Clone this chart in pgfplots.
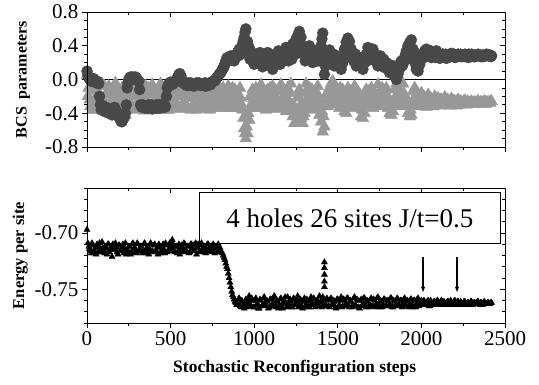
\documentclass[border=0pt]{standalone}
\usepackage{fontspec}
\setmainfont{Liberation Serif}
\usepackage{pgfplots}
\usepackage{pgfplotstable}
\pgfplotsset{compat=1.18}
\usetikzlibrary{arrows.meta}
\definecolor{cdark}{RGB}{72,72,72}
\definecolor{clight}{RGB}{152,152,152}

% BCS parameter 1 (circles), steps 0,10,...,2420
\pgfplotstableread[header=false,row sep=\\]{
0.10\\ 0.02\\ 0.00\\ -0.01\\ 0.01\\ -0.03\\ -0.02\\ -0.05\\
-0.30\\ -0.34\\ -0.36\\ -0.33\\ -0.38\\ -0.40\\ -0.36\\ -0.42\\ -0.38\\
-0.35\\ -0.40\\ -0.44\\ -0.48\\ -0.50\\ -0.46\\ -0.40\\
-0.10\\ 0.00\\ 0.03\\ 0.02\\ 0.01\\ 0.03\\ 0.00\\ -0.02\\
-0.30\\ -0.33\\ -0.31\\ -0.34\\ -0.32\\ -0.30\\ -0.33\\ -0.35\\ -0.31\\ -0.32\\ -0.34\\ -0.30\\ -0.33\\ -0.31\\ -0.29\\ -0.32\\
-0.10\\ -0.05\\ -0.03\\ -0.06\\ -0.04\\ -0.02\\ 0.02\\ 0.06\\ 0.05\\ -0.02\\
-0.04\\ -0.06\\ -0.05\\ -0.07\\ -0.04\\ -0.06\\ -0.08\\ -0.05\\ -0.06\\ -0.04\\ -0.07\\ -0.05\\ -0.06\\ -0.08\\ -0.05\\ -0.04\\ -0.06\\ -0.03\\ -0.02\\ 0.00\\ 0.03\\ 0.06\\
0.08\\ 0.12\\ 0.15\\ 0.22\\ 0.26\\ 0.24\\ 0.28\\ 0.25\\ 0.22\\ 0.27\\
0.32\\ 0.36\\ 0.30\\ 0.42\\ 0.50\\ 0.60\\ 0.45\\ 0.38\\ 0.30\\ 0.25\\
0.18\\ 0.22\\ 0.30\\ 0.26\\ 0.20\\ 0.15\\ 0.22\\ 0.28\\ 0.32\\ 0.25\\
0.18\\ 0.12\\ 0.20\\ 0.28\\ 0.30\\ 0.24\\ 0.20\\ 0.26\\ 0.34\\ 0.38\\
0.30\\ 0.26\\ 0.32\\ 0.42\\ 0.40\\ 0.48\\ 0.52\\ 0.57\\ 0.50\\ 0.38\\
0.30\\ 0.24\\ 0.36\\ 0.40\\ 0.32\\ 0.20\\ 0.26\\ 0.34\\ 0.30\\ 0.22\\
0.40\\ 0.55\\ 0.06\\ 0.22\\ 0.28\\ 0.35\\ 0.30\\ 0.22\\ 0.16\\ 0.20\\
0.26\\ 0.18\\ 0.12\\ 0.20\\ 0.36\\ 0.44\\ 0.49\\ 0.45\\ 0.36\\ 0.30\\
0.24\\ 0.16\\ 0.20\\ 0.26\\ 0.18\\ 0.12\\ 0.20\\ 0.30\\ 0.38\\ 0.32\\
0.26\\ 0.36\\ 0.30\\ 0.22\\ 0.16\\ 0.22\\ 0.26\\ 0.18\\ 0.14\\ 0.20\\
0.12\\ 0.08\\ 0.16\\ 0.10\\ 0.04\\ 0.00\\ 0.06\\ 0.14\\ 0.22\\ 0.18\\
0.26\\ 0.34\\ 0.40\\ 0.44\\ 0.47\\ 0.36\\ 0.24\\ 0.12\\ 0.10\\ 0.18\\
0.26\\ 0.30\\ 0.34\\ 0.36\\ 0.34\\ 0.30\\ 0.26\\ 0.30\\ 0.32\\ 0.34\\
0.28\\ 0.25\\ 0.27\\ 0.30\\ 0.28\\ 0.25\\ 0.27\\ 0.30\\ 0.31\\ 0.28\\
0.26\\ 0.29\\ 0.30\\ 0.28\\ 0.27\\ 0.29\\ 0.30\\ 0.28\\ 0.26\\ 0.28\\
0.30\\ 0.29\\ 0.27\\ 0.28\\ 0.30\\ 0.29\\ 0.28\\ 0.27\\ 0.29\\ 0.30\\
0.28\\ 0.29\\ 0.28\\
}\Ctab
% BCS parameter 1 (circles), steps 5,15,...,2415
\pgfplotstableread[header=false,row sep=\\]{
0.05\\ 0.01\\ -0.02\\ 0.00\\ -0.02\\ -0.04\\ -0.03\\ -0.20\\
-0.36\\ -0.31\\ -0.38\\ -0.35\\ -0.34\\ -0.37\\ -0.40\\ -0.38\\ -0.33\\
-0.38\\ -0.42\\ -0.46\\ -0.50\\ -0.47\\ -0.44\\ -0.30\\
-0.04\\ 0.02\\ 0.01\\ 0.03\\ 0.00\\ 0.02\\ -0.01\\ -0.12\\
-0.32\\ -0.30\\ -0.33\\ -0.31\\ -0.34\\ -0.32\\ -0.30\\ -0.33\\ -0.34\\ -0.30\\ -0.32\\ -0.34\\ -0.31\\ -0.30\\ -0.33\\ -0.20\\
-0.07\\ -0.04\\ -0.05\\ -0.03\\ -0.03\\ 0.00\\ 0.04\\ 0.07\\ 0.02\\ -0.04\\
-0.05\\ -0.07\\ -0.04\\ -0.06\\ -0.05\\ -0.07\\ -0.06\\ -0.04\\ -0.05\\ -0.06\\ -0.05\\ -0.07\\ -0.04\\ -0.06\\ -0.07\\ -0.05\\ -0.04\\ -0.02\\ -0.01\\ 0.02\\ 0.04\\ 0.07\\
0.10\\ 0.14\\ 0.19\\ 0.25\\ 0.22\\ 0.27\\ 0.24\\ 0.28\\ 0.25\\ 0.30\\
0.28\\ 0.34\\ 0.38\\ 0.46\\ 0.56\\ 0.40\\ 0.34\\ 0.24\\ 0.32\\ 0.20\\
0.24\\ 0.28\\ 0.20\\ 0.32\\ 0.26\\ 0.20\\ 0.30\\ 0.22\\ 0.20\\ 0.30\\
0.24\\ 0.18\\ 0.26\\ 0.22\\ 0.34\\ 0.18\\ 0.28\\ 0.22\\ 0.28\\ 0.30\\
0.22\\ 0.34\\ 0.24\\ 0.36\\ 0.30\\ 0.36\\ 0.44\\ 0.50\\ 0.40\\ 0.30\\
0.22\\ 0.32\\ 0.26\\ 0.30\\ 0.24\\ 0.28\\ 0.32\\ 0.22\\ 0.26\\ 0.32\\
0.48\\ 0.24\\ 0.16\\ 0.30\\ 0.22\\ 0.28\\ 0.24\\ 0.30\\ 0.24\\ 0.28\\
0.20\\ 0.24\\ 0.18\\ 0.28\\ 0.30\\ 0.38\\ 0.40\\ 0.30\\ 0.26\\ 0.22\\
0.30\\ 0.22\\ 0.26\\ 0.20\\ 0.24\\ 0.18\\ 0.26\\ 0.22\\ 0.28\\ 0.24\\
0.32\\ 0.24\\ 0.22\\ 0.28\\ 0.20\\ 0.28\\ 0.20\\ 0.24\\ 0.20\\ 0.16\\
0.18\\ 0.14\\ 0.10\\ 0.16\\ 0.08\\ 0.04\\ 0.10\\ 0.20\\ 0.16\\ 0.24\\
0.30\\ 0.24\\ 0.32\\ 0.36\\ 0.30\\ 0.28\\ 0.18\\ 0.20\\ 0.16\\ 0.22\\
0.30\\ 0.26\\ 0.28\\ 0.32\\ 0.28\\ 0.34\\ 0.30\\ 0.28\\ 0.26\\ 0.30\\
0.30\\ 0.28\\ 0.30\\ 0.26\\ 0.30\\ 0.28\\ 0.29\\ 0.27\\ 0.28\\ 0.30\\
0.29\\ 0.27\\ 0.28\\ 0.30\\ 0.29\\ 0.27\\ 0.28\\ 0.29\\ 0.30\\ 0.27\\
0.28\\ 0.27\\ 0.29\\ 0.29\\ 0.28\\ 0.27\\ 0.29\\ 0.28\\ 0.28\\ 0.29\\
0.29\\ 0.27\\
}\Cbtab

% BCS parameter 2 (triangles), steps 0,10,...,2420
\pgfplotstableread[header=false,row sep=\\]{
0.05\\ -0.10\\ -0.32\\ -0.06\\ -0.28\\ -0.36\\ -0.12\\ -0.22\\ -0.35\\ -0.05\\
-0.30\\ -0.18\\ -0.37\\ -0.08\\ -0.26\\ -0.34\\ -0.14\\ -0.04\\ -0.30\\ -0.20\\
-0.36\\ -0.10\\ -0.40\\ -0.42\\ -0.24\\ -0.06\\ -0.32\\ -0.16\\ -0.36\\ -0.04\\
-0.28\\ -0.34\\ -0.12\\ -0.22\\ -0.37\\ -0.08\\ -0.30\\ -0.18\\ -0.35\\ -0.06\\
-0.26\\ -0.36\\ -0.14\\ -0.30\\ -0.05\\ -0.20\\ -0.34\\ -0.10\\ -0.28\\ -0.36\\
-0.07\\ -0.24\\ -0.33\\ -0.12\\ -0.30\\ -0.18\\ -0.35\\ -0.08\\ -0.26\\ -0.34\\
-0.10\\ -0.22\\ -0.36\\ -0.06\\ -0.30\\ -0.16\\ -0.34\\ -0.09\\ -0.28\\ -0.35\\
-0.12\\ -0.24\\ -0.33\\ -0.07\\ -0.30\\ -0.18\\ -0.34\\ -0.10\\ -0.26\\ -0.33\\
-0.12\\ -0.22\\ -0.32\\ -0.14\\ -0.28\\ -0.18\\ -0.34\\ -0.10\\ -0.26\\ -0.32\\
-0.16\\ -0.28\\ -0.22\\ -0.36\\ -0.58\\ -0.70\\ -0.64\\ -0.48\\ -0.30\\ -0.12\\
-0.28\\ -0.10\\ -0.34\\ -0.18\\ -0.06\\ -0.30\\ -0.22\\ -0.36\\ -0.12\\ -0.26\\
-0.33\\ -0.08\\ -0.24\\ -0.35\\ -0.14\\ -0.28\\ -0.06\\ -0.32\\ -0.20\\ -0.38\\
-0.10\\ -0.30\\ -0.05\\ -0.44\\ -0.52\\ -0.50\\ -0.36\\ -0.12\\ -0.46\\ -0.52\\
-0.40\\ -0.05\\ -0.22\\ -0.10\\ -0.32\\ -0.26\\ -0.14\\ -0.34\\ -0.08\\ -0.42\\
-0.50\\ -0.62\\ -0.56\\ -0.18\\ -0.32\\ -0.10\\ -0.05\\ -0.02\\ -0.08\\ -0.30\\
-0.15\\ -0.34\\ -0.22\\ -0.12\\ -0.38\\ -0.40\\ -0.10\\ -0.30\\ -0.18\\ -0.34\\
-0.08\\ -0.26\\ -0.14\\ -0.32\\ -0.44\\ -0.46\\ -0.40\\ -0.12\\ -0.28\\ -0.20\\
-0.10\\ -0.34\\ -0.16\\ -0.30\\ -0.06\\ -0.24\\ -0.32\\ -0.14\\ -0.28\\ -0.10\\
-0.34\\ -0.40\\ -0.42\\ -0.38\\ -0.12\\ -0.05\\ -0.26\\ -0.16\\ -0.32\\ -0.05\\
-0.20\\ -0.30\\ -0.40\\ -0.44\\ -0.42\\ -0.14\\ -0.10\\ -0.28\\ -0.18\\ -0.32\\
-0.16\\ -0.28\\ -0.22\\ -0.33\\ -0.18\\ -0.30\\ -0.24\\ -0.32\\ -0.20\\ -0.30\\
-0.22\\ -0.31\\ -0.24\\ -0.30\\ -0.21\\ -0.29\\ -0.25\\ -0.31\\ -0.23\\ -0.29\\
-0.26\\ -0.31\\ -0.24\\ -0.30\\ -0.27\\ -0.29\\ -0.25\\ -0.30\\ -0.27\\ -0.28\\
-0.26\\ -0.29\\ -0.27\\ -0.28\\ -0.26\\ -0.29\\ -0.27\\ -0.28\\ -0.26\\ -0.28\\
-0.27\\ -0.28\\ -0.26\\
}\Ttab
% BCS parameter 2 (triangles), steps 5,15,...,2415
\pgfplotstableread[header=false,row sep=\\]{
-0.20\\ -0.24\\ -0.14\\ -0.36\\ -0.10\\ -0.20\\ -0.30\\ -0.06\\ -0.22\\ -0.32\\
-0.08\\ -0.30\\ -0.16\\ -0.34\\ -0.12\\ -0.22\\ -0.32\\ -0.24\\ -0.10\\ -0.34\\
-0.18\\ -0.28\\ -0.30\\ -0.36\\ -0.14\\ -0.26\\ -0.08\\ -0.34\\ -0.20\\ -0.18\\
-0.12\\ -0.24\\ -0.34\\ -0.06\\ -0.20\\ -0.32\\ -0.10\\ -0.36\\ -0.16\\ -0.28\\
-0.12\\ -0.22\\ -0.36\\ -0.08\\ -0.32\\ -0.14\\ -0.24\\ -0.36\\ -0.06\\ -0.20\\
-0.30\\ -0.14\\ -0.06\\ -0.28\\ -0.10\\ -0.34\\ -0.20\\ -0.30\\ -0.14\\ -0.22\\
-0.34\\ -0.06\\ -0.18\\ -0.30\\ -0.12\\ -0.36\\ -0.20\\ -0.26\\ -0.14\\ -0.22\\
-0.32\\ -0.08\\ -0.18\\ -0.36\\ -0.14\\ -0.26\\ -0.20\\ -0.34\\ -0.08\\ -0.20\\
-0.30\\ -0.10\\ -0.24\\ -0.34\\ -0.08\\ -0.30\\ -0.20\\ -0.32\\ -0.12\\ -0.22\\
-0.34\\ -0.10\\ -0.30\\ -0.46\\ -0.64\\ -0.56\\ -0.40\\ -0.20\\ -0.34\\ -0.22\\
-0.14\\ -0.24\\ -0.20\\ -0.30\\ -0.26\\ -0.12\\ -0.34\\ -0.18\\ -0.30\\ -0.10\\
-0.20\\ -0.30\\ -0.12\\ -0.22\\ -0.32\\ -0.10\\ -0.24\\ -0.14\\ -0.34\\ -0.28\\
-0.24\\ -0.16\\ -0.36\\ -0.30\\ -0.40\\ -0.22\\ -0.20\\ -0.34\\ -0.28\\ -0.44\\
-0.16\\ -0.30\\ -0.34\\ -0.22\\ -0.12\\ -0.36\\ -0.24\\ -0.16\\ -0.30\\ -0.24\\
-0.38\\ -0.44\\ -0.32\\ -0.26\\ -0.14\\ -0.22\\ -0.30\\ -0.12\\ -0.20\\ -0.22\\
-0.28\\ -0.10\\ -0.30\\ -0.26\\ -0.20\\ -0.30\\ -0.24\\ -0.14\\ -0.30\\ -0.20\\
-0.32\\ -0.18\\ -0.24\\ -0.22\\ -0.36\\ -0.30\\ -0.20\\ -0.30\\ -0.14\\ -0.32\\
-0.26\\ -0.14\\ -0.28\\ -0.22\\ -0.18\\ -0.30\\ -0.10\\ -0.24\\ -0.20\\ -0.30\\
-0.22\\ -0.30\\ -0.28\\ -0.24\\ -0.30\\ -0.20\\ -0.12\\ -0.30\\ -0.22\\ -0.16\\
-0.30\\ -0.24\\ -0.30\\ -0.36\\ -0.26\\ -0.30\\ -0.22\\ -0.16\\ -0.30\\ -0.24\\
-0.30\\ -0.20\\ -0.30\\ -0.24\\ -0.28\\ -0.22\\ -0.30\\ -0.22\\ -0.30\\ -0.24\\
-0.29\\ -0.24\\ -0.30\\ -0.23\\ -0.28\\ -0.24\\ -0.30\\ -0.24\\ -0.29\\ -0.25\\
-0.29\\ -0.25\\ -0.30\\ -0.26\\ -0.28\\ -0.25\\ -0.29\\ -0.26\\ -0.28\\ -0.27\\
-0.28\\ -0.27\\ -0.29\\ -0.26\\ -0.28\\ -0.27\\ -0.28\\ -0.26\\ -0.29\\ -0.27\\
-0.27\\ -0.26\\
}\Tbtab

% Energy per site, steps 0,10,...,2420
\pgfplotstableread[header=false,row sep=\\]{
-0.697\\
-0.712\\ -0.716\\ -0.709\\ -0.718\\ -0.713\\ -0.710\\ -0.717\\ -0.714\\ -0.708\\ -0.716\\
-0.712\\ -0.719\\ -0.710\\ -0.715\\ -0.721\\ -0.713\\ -0.709\\ -0.717\\ -0.711\\ -0.716\\
-0.713\\ -0.718\\ -0.709\\ -0.715\\ -0.712\\ -0.719\\ -0.710\\ -0.714\\ -0.717\\ -0.709\\
-0.716\\ -0.712\\ -0.718\\ -0.710\\ -0.715\\ -0.713\\ -0.719\\ -0.709\\ -0.716\\ -0.711\\
-0.717\\ -0.713\\ -0.710\\ -0.718\\ -0.712\\ -0.715\\ -0.709\\ -0.717\\ -0.714\\ -0.711\\
-0.706\\ -0.716\\ -0.712\\ -0.718\\ -0.710\\ -0.714\\ -0.717\\ -0.709\\ -0.715\\ -0.712\\
-0.718\\ -0.710\\ -0.714\\ -0.716\\ -0.709\\ -0.713\\ -0.717\\ -0.711\\ -0.715\\ -0.712\\
-0.718\\ -0.710\\ -0.714\\ -0.716\\ -0.711\\ -0.715\\ -0.713\\ -0.717\\ -0.714\\
-0.716\\ -0.718\\ -0.722\\ -0.727\\ -0.732\\ -0.740\\ -0.748\\ -0.755\\ -0.759\\ -0.762\\
-0.763\\ -0.758\\ -0.766\\ -0.761\\ -0.767\\ -0.759\\ -0.764\\ -0.756\\ -0.765\\ -0.760\\
-0.766\\ -0.758\\ -0.763\\ -0.767\\ -0.760\\ -0.764\\ -0.757\\ -0.765\\ -0.761\\ -0.766\\
-0.759\\ -0.763\\ -0.756\\ -0.766\\ -0.761\\ -0.764\\ -0.758\\ -0.767\\ -0.760\\ -0.763\\
-0.757\\ -0.765\\ -0.761\\ -0.766\\ -0.759\\ -0.763\\ -0.756\\ -0.764\\ -0.760\\ -0.767\\
-0.758\\ -0.764\\ -0.761\\ -0.766\\ -0.757\\ -0.763\\ -0.759\\ -0.765\\ -0.760\\ -0.756\\
-0.761\\ -0.757\\ -0.759\\ -0.764\\ -0.760\\ -0.766\\ -0.758\\ -0.763\\ -0.761\\ -0.767\\
-0.759\\ -0.764\\ -0.757\\ -0.765\\ -0.760\\ -0.763\\ -0.758\\ -0.766\\ -0.761\\ -0.764\\
-0.757\\ -0.765\\ -0.760\\ -0.767\\ -0.759\\ -0.763\\ -0.758\\ -0.766\\ -0.761\\ -0.764\\
-0.758\\ -0.765\\ -0.760\\ -0.763\\ -0.757\\ -0.766\\ -0.761\\ -0.764\\ -0.759\\ -0.765\\
-0.760\\ -0.763\\ -0.758\\ -0.766\\ -0.761\\ -0.764\\ -0.759\\ -0.765\\ -0.760\\ -0.763\\
-0.758\\ -0.765\\ -0.761\\ -0.764\\ -0.759\\ -0.766\\ -0.760\\ -0.763\\ -0.758\\ -0.764\\
-0.760\\ -0.764\\ -0.761\\ -0.763\\ -0.760\\ -0.765\\ -0.762\\ -0.763\\ -0.761\\ -0.764\\
-0.761\\ -0.763\\ -0.760\\ -0.764\\ -0.762\\ -0.763\\ -0.761\\ -0.764\\ -0.762\\ -0.763\\
-0.760\\ -0.763\\ -0.761\\ -0.764\\ -0.762\\ -0.763\\ -0.761\\ -0.763\\ -0.762\\ -0.764\\
-0.761\\ -0.763\\ -0.762\\ -0.763\\ -0.761\\ -0.764\\ -0.762\\ -0.763\\ -0.762\\ -0.763\\
-0.762\\ -0.763\\ -0.762\\
}\Etab
% Energy per site, steps 5,15,...,2415
\pgfplotstableread[header=false,row sep=\\]{
-0.709\\ -0.714\\ -0.718\\ -0.711\\ -0.716\\ -0.719\\ -0.712\\ -0.709\\ -0.717\\ -0.713\\
-0.718\\ -0.714\\ -0.710\\ -0.717\\ -0.712\\ -0.710\\ -0.715\\ -0.713\\ -0.719\\ -0.711\\
-0.716\\ -0.710\\ -0.714\\ -0.719\\ -0.716\\ -0.712\\ -0.717\\ -0.709\\ -0.713\\ -0.718\\
-0.710\\ -0.715\\ -0.712\\ -0.717\\ -0.709\\ -0.718\\ -0.712\\ -0.715\\ -0.710\\ -0.717\\
-0.710\\ -0.716\\ -0.719\\ -0.712\\ -0.716\\ -0.710\\ -0.718\\ -0.711\\ -0.716\\ -0.709\\
-0.714\\ -0.710\\ -0.717\\ -0.712\\ -0.716\\ -0.719\\ -0.711\\ -0.714\\ -0.710\\ -0.717\\
-0.712\\ -0.717\\ -0.710\\ -0.711\\ -0.716\\ -0.719\\ -0.710\\ -0.716\\ -0.709\\ -0.717\\
-0.713\\ -0.716\\ -0.710\\ -0.712\\ -0.717\\ -0.710\\ -0.718\\ -0.712\\ -0.710\\ -0.713\\
-0.717\\ -0.720\\ -0.724\\ -0.730\\ -0.736\\ -0.744\\ -0.752\\ -0.757\\ -0.761\\ -0.764\\
-0.759\\ -0.765\\ -0.760\\ -0.765\\ -0.762\\ -0.766\\ -0.760\\ -0.763\\ -0.758\\ -0.766\\
-0.760\\ -0.764\\ -0.767\\ -0.759\\ -0.765\\ -0.758\\ -0.763\\ -0.760\\ -0.767\\ -0.759\\
-0.765\\ -0.758\\ -0.764\\ -0.760\\ -0.767\\ -0.759\\ -0.765\\ -0.762\\ -0.757\\ -0.766\\
-0.763\\ -0.759\\ -0.766\\ -0.758\\ -0.764\\ -0.760\\ -0.766\\ -0.759\\ -0.765\\ -0.761\\
-0.765\\ -0.759\\ -0.766\\ -0.760\\ -0.764\\ -0.758\\ -0.766\\ -0.761\\ -0.765\\ -0.762\\
-0.766\\ -0.763\\ -0.765\\ -0.758\\ -0.765\\ -0.759\\ -0.764\\ -0.760\\ -0.766\\ -0.759\\
-0.765\\ -0.760\\ -0.766\\ -0.759\\ -0.764\\ -0.758\\ -0.765\\ -0.760\\ -0.766\\ -0.758\\
-0.764\\ -0.759\\ -0.766\\ -0.760\\ -0.765\\ -0.758\\ -0.764\\ -0.760\\ -0.766\\ -0.759\\
-0.765\\ -0.759\\ -0.766\\ -0.758\\ -0.764\\ -0.760\\ -0.766\\ -0.759\\ -0.765\\ -0.760\\
-0.765\\ -0.758\\ -0.766\\ -0.760\\ -0.765\\ -0.758\\ -0.764\\ -0.760\\ -0.766\\ -0.759\\
-0.765\\ -0.760\\ -0.766\\ -0.759\\ -0.764\\ -0.760\\ -0.766\\ -0.759\\ -0.765\\ -0.761\\
-0.763\\ -0.760\\ -0.764\\ -0.761\\ -0.765\\ -0.760\\ -0.764\\ -0.761\\ -0.764\\ -0.760\\
-0.764\\ -0.761\\ -0.764\\ -0.761\\ -0.764\\ -0.761\\ -0.764\\ -0.760\\ -0.764\\ -0.761\\
-0.764\\ -0.761\\ -0.763\\ -0.761\\ -0.764\\ -0.761\\ -0.764\\ -0.762\\ -0.763\\ -0.761\\
-0.764\\ -0.762\\ -0.763\\ -0.761\\ -0.763\\ -0.762\\ -0.764\\ -0.761\\ -0.763\\ -0.762\\
-0.763\\ -0.762\\
}\Ebtab

\pgfplotsset{
  base/.style={
    scale only axis, width=418pt, height=135pt,
    xmin=0, xmax=2500, xtick={0,500,...,2500}, minor x tick num=1,
    axis line style={black, line width=0.8pt},
    every tick/.style={black, line width=0.7pt},
    major tick length=5pt, minor tick length=3pt,
    tick label style={font=\fontsize{21}{24}\selectfont},
    /pgf/number format/assume math mode=true,
    /pgf/number format/set thousands separator={},
    clip=false,
  },
  mirror/.style={base, tick align=inside, xtick pos=top, ytick pos=right,
    xticklabels={}, yticklabels={}},
  circ/.style={only marks, mark=*, mark size=5.5pt, draw=cdark, fill=cdark,
    mark options={draw=cdark, fill=cdark}},
  tri/.style={only marks, mark=triangle*, mark size=6.8pt, draw=clight, fill=clight,
    mark options={draw=clight, fill=clight}},
  etri/.style={only marks, mark=triangle*, mark size=3.5pt, black},
}

\begin{document}
\begin{tikzpicture}
\path[use as bounding box] (0,0) rectangle (539pt,384pt);

% ---------- top panel ----------
\begin{axis}[base, at={(87pt,237pt)}, anchor=south west,
  ymin=-0.8, ymax=0.8, ytick={-0.8,-0.4,0,0.4,0.8}, minor y tick num=3,
  yticklabel style={/pgf/number format/.cd, fixed, fixed zerofill, precision=1},
  xticklabels={}, tick align=outside, xtick pos=bottom, ytick pos=left,
  ylabel={\textbf{BCS\ \ parameters}},
  ylabel style={font=\fontsize{16}{18}\selectfont, at={(axis description cs:-0.153,0.5)}, anchor=center}]
\addplot[tri] table[x expr=\coordindex*10, y index=0] {\Ttab};
\addplot[tri] table[x expr=\coordindex*10+5, y index=0] {\Tbtab};
\addplot[circ] table[x expr=\coordindex*10, y index=0] {\Ctab};
\addplot[circ] table[x expr=\coordindex*10+5, y index=0] {\Cbtab};
\addplot[black, line width=0.9pt, mark=none] coordinates {(0,0) (2500,0)};
\end{axis}
\begin{axis}[mirror, at={(87pt,237pt)}, anchor=south west,
  ymin=-0.8, ymax=0.8, ytick={-0.8,-0.4,0,0.4,0.8}, minor y tick num=3]
\end{axis}

% ---------- bottom panel ----------
\begin{axis}[base, at={(87pt,61pt)}, anchor=south west,
  ymin=-0.78, ymax=-0.66, ytick={-0.75,-0.70},
  minor ytick={-0.78,-0.77,-0.76,-0.74,-0.73,-0.72,-0.71,-0.69,-0.68,-0.67,-0.66},
  yticklabel style={/pgf/number format/.cd, fixed, fixed zerofill, precision=2},
  tick align=outside, xtick pos=bottom, ytick pos=left,
  ylabel={\textbf{Energy per site}},
  ylabel style={font=\fontsize{16.5}{18}\selectfont, at={(axis description cs:-0.160,0.5)}, anchor=center},
  xlabel={\textbf{Stochastic Reconfiguration steps}},
  xlabel style={font=\fontsize{17.5}{20}\selectfont, at={(axis description cs:0.497,-0.363)}, anchor=base}]
\addplot[etri] table[x expr=\coordindex*10, y index=0] {\Etab};
\addplot[etri] table[x expr=\coordindex*10+5, y index=0] {\Ebtab};
\addplot[etri] coordinates {(1420,-0.726) (1420,-0.731) (1420,-0.737) (1420,-0.743) (1420,-0.748)};
\draw[line width=1.2pt, -{Latex[length=6pt,width=4.5pt]}] (axis cs:2010,-0.7214) -- (axis cs:2010,-0.7532);
\draw[line width=1.2pt, -{Latex[length=6pt,width=4.5pt]}] (axis cs:2213,-0.7214) -- (axis cs:2213,-0.7532);
\node[draw, line width=0.8pt, fill=white, anchor=north west, inner sep=0pt,
  minimum width=301pt, minimum height=51pt, font=\fontsize{27}{30}\selectfont]
  at (rel axis cs:0.268,0.970) {4 holes 26 sites J/t=0.5};
\end{axis}
\begin{axis}[mirror, at={(87pt,61pt)}, anchor=south west,
  ymin=-0.78, ymax=-0.66, ytick={-0.75,-0.70},
  minor ytick={-0.78,-0.77,-0.76,-0.74,-0.73,-0.72,-0.71,-0.69,-0.68,-0.67,-0.66}]
\end{axis}
\end{tikzpicture}
\end{document}
